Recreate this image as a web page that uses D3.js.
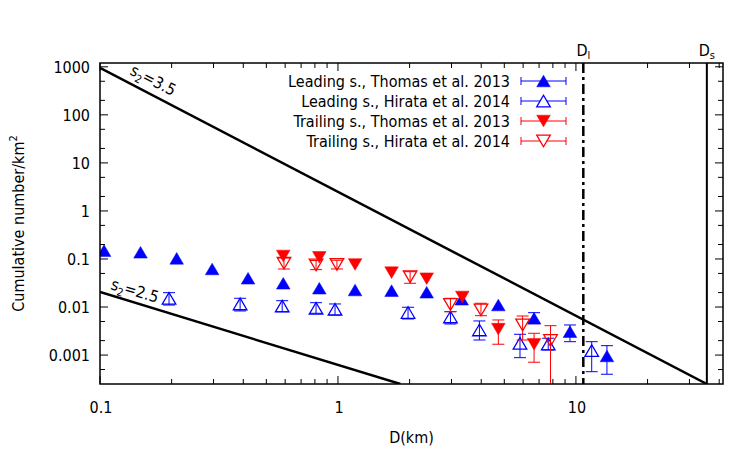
<!DOCTYPE html>
<html>
<head>
<meta charset="utf-8">
<script src="https://cdn.jsdelivr.net/npm/d3@7"></script>
<style>
  body { margin: 0; background: #fff; }
  svg { font-family: "DejaVu Sans Condensed", "DejaVu Sans", sans-serif; font-stretch: condensed; }
</style>
</head>
<body>
<div id="container"></div>
<script>
const width = 750, height = 450;
const margin = {left: 100, right: 27, top: 63, bottom: 66};
const fs = 16;

// leading side, Thomas et al. 2013 (null = no error bar drawn)
const leadThomasD  = [0.104, 0.148, 0.210, 0.296, 0.419, 0.589, 0.835, 1.18, 1.68, 2.36, 3.31, 4.72, 6.67, 9.44, 13.5];
const leadThomasN  = [0.149, 0.138, 0.103, 0.0619, 0.0397, 0.0312, 0.0246, 0.0226, 0.0219, 0.0203, 0.0145, 0.0110, 0.00583, 0.00307, 0.000958];
const leadThomasLo = [null, null, null, null, null, null, null, null, null, null, null, null, 0.0045, 0.0019, 0.000399];
const leadThomasHi = [null, null, null, null, null, null, null, null, null, null, null, null, 0.00763, 0.00423, 0.00157];

// leading side, Hirata et al. 2014
const leadHirataD  = [0.195, 0.388, 0.583, 0.809, 0.972, 1.97, 2.97, 3.93, 5.82, 7.65, 11.65];
const leadHirataN  = [0.0152, 0.0116, 0.0105, 0.00942, 0.00898, 0.0077, 0.00621, 0.00333, 0.00176, 0.0017, 0.00124];
const leadHirataLo = [0.0110, 0.00828, 0.0080, 0.00741, 0.00684, 0.00564, 0.00444, 0.00206, 0.000883, 0.00128, 0.000451];
const leadHirataHi = [0.0199, 0.0152, 0.01356, 0.01232, 0.01158, 0.00988, 0.0080, 0.00513, 0.00271, 0.00224, 0.0019];

// trailing side, Thomas et al. 2013
const trailThomasD  = [0.589, 0.835, 1.18, 1.68, 2.36, 3.33, 4.72, 6.67];
const trailThomasN  = [0.1155, 0.1085, 0.0769, 0.0519, 0.0389, 0.0162, 0.00346, 0.00168];
const trailThomasLo = [null, null, null, null, null, null, 0.00168, 0.000709];
const trailThomasHi = [null, null, null, null, null, null, 0.00538, 0.00284];

// trailing side, Hirata et al. 2014
const trailHirataD  = [0.593, 0.809, 0.99, 2.01, 2.97, 3.99, 5.97, 7.82];
const trailHirataN  = [0.0814, 0.075, 0.0769, 0.0428, 0.0113, 0.00869, 0.00423, 0.00201];
const trailHirataLo = [0.0619, 0.060, 0.062, 0.0312, 0.0080, 0.00661, 0.00206, 0.00001];
const trailHirataHi = [0.105, 0.093, 0.094, 0.0544, 0.0152, 0.01197, 0.00651, 0.00409];

// power law guide lines (endpoints) and size limits
const fit35D = [0.1, 35.5], fit35N = [950, 0.00025];
const fit25D = [0.1, 1.83], fit25N = [0.0205, 0.00025];
const Dl = 10.74, Ds = 35.5;

const xTicks = [0.1, 1, 10];
const xTickLabels = ['0.1', '1', '10'];
const yTicks = [0.001, 0.01, 0.1, 1, 10, 100, 1000];
const yTickLabels = ['0.001', '0.01', '0.1', '1', '10', '100', '1000'];

const seriesNames = [
  'Leading s., Thomas et al. 2013',
  'Leading s., Hirata et al. 2014',
  'Trailing s., Thomas et al. 2013',
  'Trailing s., Hirata et al. 2014'
];

const series = [
  {name: seriesNames[0], color: '#0000ff', up: true,  filled: true,  D: leadThomasD,  N: leadThomasN,  lo: leadThomasLo,  hi: leadThomasHi},
  {name: seriesNames[1], color: '#0000ff', up: true,  filled: false, D: leadHirataD,  N: leadHirataN,  lo: leadHirataLo,  hi: leadHirataHi},
  {name: seriesNames[2], color: '#ff0000', up: false, filled: true,  D: trailThomasD, N: trailThomasN, lo: trailThomasLo, hi: trailThomasHi},
  {name: seriesNames[3], color: '#ff0000', up: false, filled: false, D: trailHirataD, N: trailHirataN, lo: trailHirataLo, hi: trailHirataHi}
];

const x = d3.scaleLog().domain([0.1, 41.5]).range([margin.left, width - margin.right]);
const y = d3.scaleLog().domain([0.00025, 1200]).range([height - margin.bottom, margin.top]);

const svg = d3.select('#container').append('svg')
  .attr('width', width).attr('height', height);

svg.append('defs').append('clipPath').attr('id', 'plotclip')
  .append('rect')
    .attr('x', x.range()[0]).attr('y', y.range()[1])
    .attr('width', x.range()[1] - x.range()[0])
    .attr('height', y.range()[0] - y.range()[1]);

const x0 = x.range()[0], x1 = x.range()[1], y0 = y.range()[0], y1 = y.range()[1];

// minor ticks
const xMinor = [];
[0.1, 1, 10].forEach(dec => { for (let k = 2; k <= 9; k++) if (dec * k <= 41.5) xMinor.push(dec * k); });
const yMinor = [];
[0.0001, 0.001, 0.01, 0.1, 1, 10, 100].forEach(dec => [2, 5].forEach(k => { const v = dec * k; if (v >= 0.00025 && v <= 1200) yMinor.push(v); }));

const ticks = svg.append('g').attr('stroke', '#000').attr('stroke-width', 1);
function xTick(v, len) {
  ticks.append('line').attr('x1', x(v)).attr('x2', x(v)).attr('y1', y0).attr('y2', y0 - len);
  ticks.append('line').attr('x1', x(v)).attr('x2', x(v)).attr('y1', y1).attr('y2', y1 + len);
}
function yTick(v, len) {
  ticks.append('line').attr('x1', x0).attr('x2', x0 + len).attr('y1', y(v)).attr('y2', y(v));
  ticks.append('line').attr('x1', x1).attr('x2', x1 - len).attr('y1', y(v)).attr('y2', y(v));
}
xTicks.forEach(v => xTick(v, 8));
xMinor.forEach(v => xTick(v, 5));
yTicks.forEach(v => yTick(v, 8));
yMinor.forEach(v => yTick(v, 5));

svg.append('g').selectAll('text').data(xTicks).join('text')
  .attr('x', d => x(d) + 1).attr('y', 413)
  .attr('text-anchor', 'middle').attr('font-size', fs)
  .text((d, i) => xTickLabels[i]);

svg.append('g').selectAll('text').data(yTicks).join('text')
  .attr('x', 90).attr('y', d => y(d) + 6)
  .attr('text-anchor', 'end').attr('font-size', fs)
  .text((d, i) => yTickLabels[i]);

// axis titles
svg.append('text').attr('x', (x0 + x1) / 2).attr('y', 443)
  .attr('text-anchor', 'middle').attr('font-size', fs).text('D(km)');

const yl = svg.append('text')
  .attr('transform', `translate(24,${(y0 + y1) / 2}) rotate(-90)`)
  .attr('text-anchor', 'middle').attr('font-size', fs);
yl.append('tspan').text('Cumulative number/km');
yl.append('tspan').attr('font-size', 11).attr('dy', -7).text('2');

const plot = svg.append('g').attr('clip-path', 'url(#plotclip)');

// guide lines
const line = d3.line().x(d => x(d[0])).y(d => y(d[1]));
plot.append('path').datum(d3.zip(fit35D, fit35N)).attr('d', line)
  .attr('fill', 'none').attr('stroke', '#000').attr('stroke-width', 2.5);
plot.append('path').datum(d3.zip(fit25D, fit25N)).attr('d', line)
  .attr('fill', 'none').attr('stroke', '#000').attr('stroke-width', 2.5);

plot.append('line').attr('x1', x(Dl)).attr('x2', x(Dl)).attr('y1', y1).attr('y2', y0)
  .attr('stroke', '#000').attr('stroke-width', 2.5).attr('stroke-dasharray', '10,4,3,4');
plot.append('line').attr('x1', x(Ds)).attr('x2', x(Ds)).attr('y1', y1).attr('y2', y0)
  .attr('stroke', '#000').attr('stroke-width', 2);

// labels of guide lines
function slopeLabel(px, py, angle, val) {
  const t = svg.append('text').attr('font-size', fs)
    .attr('transform', `translate(${px},${py}) rotate(${angle})`);
  t.append('tspan').text('s');
  t.append('tspan').attr('font-size', 11).attr('dy', 4).text('2');
  t.append('tspan').attr('dy', -4).text('=' + val);
}
slopeLabel(129, 74, 27, '3.5');
slopeLabel(110, 289, 16.5, '2.5');

function subLabel(px, sub) {
  const t = svg.append('text').attr('x', px).attr('y', 56).attr('font-size', fs).attr('text-anchor', 'middle');
  t.append('tspan').text('D');
  t.append('tspan').attr('font-size', 11).attr('dy', 3).text(sub);
}
subLabel(x(Dl), 'l');
subLabel(x(Ds), 's');

// markers
function tri(cx, cy, up) {
  const w = 6.8, h = 5.8;
  return up
    ? `M${cx - w},${cy + h}L${cx + w},${cy + h}L${cx},${cy - h}Z`
    : `M${cx - w},${cy - h}L${cx + w},${cy - h}L${cx},${cy + h}Z`;
}

series.forEach(s => {
  const g = plot.append('g');
  const pts = s.D.map((d, i) => ({D: d, N: s.N[i], lo: s.lo[i], hi: s.hi[i]}));
  const eb = g.append('g').attr('stroke', s.color).attr('stroke-width', 1);
  pts.filter(p => p.lo != null).forEach(p => {
    const px = x(p.D);
    eb.append('line').attr('x1', px).attr('x2', px).attr('y1', y(p.lo)).attr('y2', y(p.hi));
    eb.append('line').attr('x1', px - 6).attr('x2', px + 6).attr('y1', y(p.lo)).attr('y2', y(p.lo));
    eb.append('line').attr('x1', px - 6).attr('x2', px + 6).attr('y1', y(p.hi)).attr('y2', y(p.hi));
  });
  g.selectAll('path.pt').data(pts).join('path')
    .attr('class', 'pt')
    .attr('d', p => tri(x(p.D), y(p.N), s.up))
    .attr('fill', s.filled ? s.color : 'none')
    .attr('stroke', s.color).attr('stroke-width', s.filled ? 0.5 : 1.3);
});

// legend
const legend = svg.append('g');
series.forEach((s, i) => {
  const ly = 81 + i * 20;
  legend.append('text').attr('x', 510).attr('y', ly + 6).attr('text-anchor', 'end')
    .attr('font-size', fs).text(s.name);
  const lg = legend.append('g').attr('stroke', s.color).attr('stroke-width', 1);
  lg.append('line').attr('x1', 521).attr('x2', 566).attr('y1', ly).attr('y2', ly);
  lg.append('line').attr('x1', 521).attr('x2', 521).attr('y1', ly - 4).attr('y2', ly + 4);
  lg.append('line').attr('x1', 566).attr('x2', 566).attr('y1', ly - 4).attr('y2', ly + 4);
  legend.append('path').attr('d', tri(543.5, ly, s.up))
    .attr('fill', s.filled ? s.color : '#fff')
    .attr('stroke', s.color).attr('stroke-width', s.filled ? 0.5 : 1.3);
});

// frame
svg.append('rect').attr('x', x0).attr('y', y1).attr('width', x1 - x0).attr('height', y0 - y1)
  .attr('fill', 'none').attr('stroke', '#000').attr('stroke-width', 1.5);
</script>
</body>
</html>
